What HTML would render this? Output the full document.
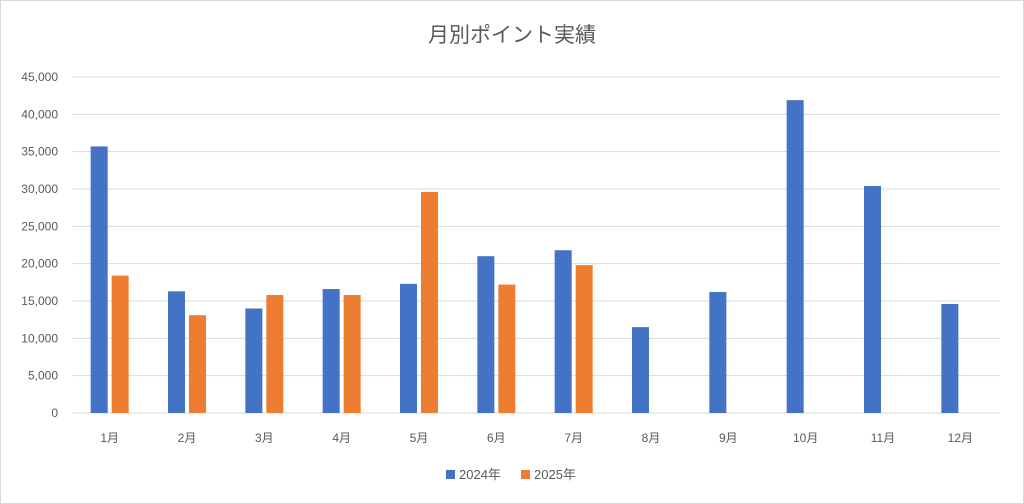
<!DOCTYPE html>
<html><head><meta charset="utf-8"><style>
body{margin:0;background:#fff;}
svg{display:block;font-family:"Liberation Sans","Noto Sans CJK JP",sans-serif;}
</style></head><body>
<svg id="c" width="1024" height="504">
<rect x="0.5" y="0.5" width="1023" height="503" fill="#fff" stroke="#d9d9d9"/>
<text x="512" y="42" text-anchor="middle" font-size="21" fill="#595959">月別ポイント実績</text>
<g id="grid"></g><g id="bars"></g><g id="xl"></g>
<g>
<rect x="446" y="470" width="9" height="9" fill="#4472c4"/>
<text x="459" y="479" font-size="13" fill="#595959">2024年</text>
<rect x="521" y="470" width="9" height="9" fill="#ed7d31"/>
<text x="534" y="479" font-size="13" fill="#595959">2025年</text>
</g>
</svg>
<script>
const categories=["1月","2月","3月","4月","5月","6月","7月","8月","9月","10月","11月","12月"];
const s2024=[35700,16300,14000,16600,17300,21000,21800,11500,16200,41900,30400,14600];
const s2025=[18400,13100,15800,15800,29600,17200,19800,null,null,null,null,null];
const ticks=[0,5000,10000,15000,20000,25000,30000,35000,40000,45000];
const NS="http://www.w3.org/2000/svg";
const y0=413,yTop=77,maxV=45000,left=72,right=1000;
const bw=(right-left)/categories.length;
const y=v=>y0-(v/maxV)*(y0-yTop);
const xc=i=>left+bw*(i+0.5)-1;
function mk(t,a,p){const e=document.createElementNS(NS,t);for(const k in a)e.setAttribute(k,a[k]);p.appendChild(e);return e;}
const g=document.getElementById('grid');
ticks.forEach(t=>{
 const l=mk('line',{x1:left,x2:right,y1:y(t),y2:y(t),stroke:'#d9d9d9','stroke-width':1},g);
 
 
 const tx=mk('text',{x:58,y:y(t)+4,'text-anchor':'end','font-size':12,fill:'#595959'},g);
 tx.textContent=t.toLocaleString('en-US');
 
 
});
const b=document.getElementById('bars'),xl=document.getElementById('xl');
const w=17,gap=4;
categories.forEach((c,i)=>{
 const cx=xc(i);
 if(s2024[i]!=null){const r=mk('rect',{x:cx-gap/2-w,y:y(s2024[i]),width:w,height:y0-y(s2024[i]),fill:'#4472c4'},b);
 
 }
 if(s2025[i]!=null){const r=mk('rect',{x:cx+gap/2,y:y(s2025[i]),width:w,height:y0-y(s2025[i]),fill:'#ed7d31'},b);
 
 }
 const t=mk('text',{x:cx,y:442,'text-anchor':'middle','font-size':12,fill:'#595959'},xl);
 t.textContent=c;
 
 
});
</script>
</body></html>
